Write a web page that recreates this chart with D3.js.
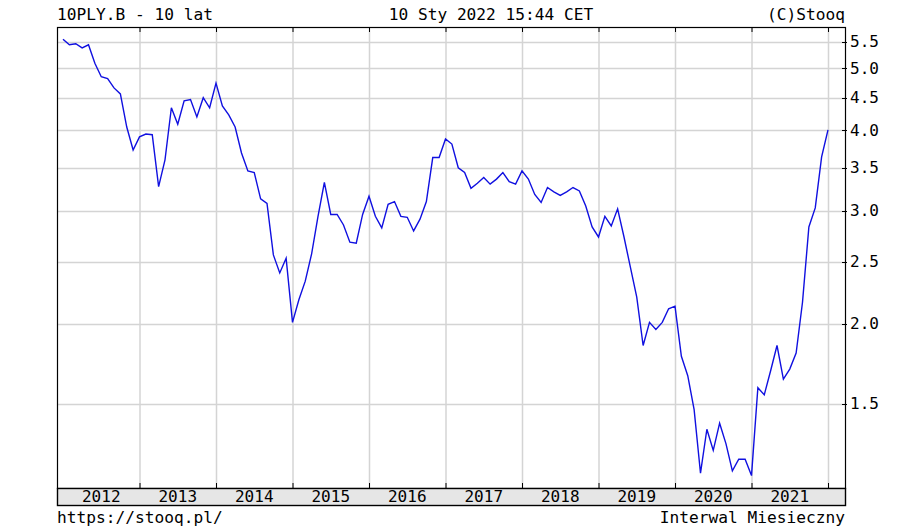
<!DOCTYPE html>
<html><head><meta charset="utf-8">
<script src="https://cdn.jsdelivr.net/npm/d3@7"></script>
<style>
html,body{margin:0;padding:0;background:#fff;}
svg{display:block;}
text{font-family:"DejaVu Sans Mono",monospace;fill:#000;}
</style></head>
<body>
<svg id="chart" width="916" height="529"></svg>
<script>
// Monthly yields, Jan 2012 .. Jan 2022
const startYear = 2012;
const values = [
  5.55,5.44,5.46,5.38,5.44,5.09,4.85,4.82,4.66,4.56,4.05,3.73,
  3.91,3.95,3.94,3.27,3.60,4.34,4.09,4.45,4.47,4.20,4.50,4.34,
  4.74,4.37,4.23,4.05,3.69,3.46,3.44,3.13,3.08,2.56,2.40,2.53,
  2.01,2.18,2.33,2.57,2.94,3.32,2.96,2.96,2.85,2.68,2.67,2.96,
  3.16,2.94,2.82,3.07,3.10,2.94,2.93,2.79,2.91,3.10,3.63,3.63,
  3.88,3.81,3.50,3.44,3.25,3.31,3.38,3.30,3.36,3.44,3.33,3.30,
  3.46,3.36,3.18,3.09,3.26,3.21,3.17,3.21,3.26,3.22,3.05,2.83,
  2.73,2.94,2.84,3.02,2.73,2.45,2.20,1.85,2.01,1.96,2.01,2.11,
  2.13,1.78,1.66,1.47,1.17,1.37,1.27,1.40,1.30,1.18,1.23,1.23,
  1.16,1.59,1.55,1.69,1.85,1.64,1.70,1.80,2.16,2.83,3.03,3.64,
  4.01
];
const yearLabels = ["2012","2013","2014","2015","2016","2017","2018","2019","2020","2021"];
const yTicks = [1.5,2.0,2.5,3.0,3.5,4.0,4.5,5.0,5.5];
const titleLeft = "10PLY.B - 10 lat";
const titleCenter = "10 Sty 2022 15:44 CET";
const titleRight = "(C)Stooq";
const footLeft = "https://stooq.pl/";
const footRight = "Interwal Miesieczny";

const L = 57, R = 845, T = 27, B = 488, BB = 505;
const svg = d3.select("#chart");

const x = d3.scaleLinear().domain([0, 120]).range([63, 828]);
const y = d3.scaleLog().domain([1.1096, 5.798]).range([B, T]);

// gridlines
const gridCol = "#d4d4d4";
const yearLines = d3.range(1, 11).map(k => k * 12);
svg.append("g").selectAll("line").data(yearLines).join("line")
  .attr("x1", d => x(d) + 0.5).attr("x2", d => x(d) + 0.5)
  .attr("y1", T).attr("y2", B)
  .attr("stroke", gridCol).attr("stroke-width", 1.5);
svg.append("g").selectAll("line").data(yTicks).join("line")
  .attr("x1", L).attr("x2", R)
  .attr("y1", d => Math.round(y(d)) + 0.5).attr("y2", d => Math.round(y(d)) + 0.5)
  .attr("stroke", gridCol).attr("stroke-width", 1.5);

// tick marks
const tickG = svg.append("g").attr("stroke", "#000").attr("stroke-width", 1);
tickG.selectAll(".tt").data(yearLines).join("line")
  .attr("x1", d => x(d) + 0.5).attr("x2", d => x(d) + 0.5)
  .attr("y1", T).attr("y2", T + 5);
tickG.selectAll(".tb").data(yearLines).join("line")
  .attr("x1", d => x(d) + 0.5).attr("x2", d => x(d) + 0.5)
  .attr("y1", B - 5).attr("y2", B);
tickG.selectAll(".ty").data(yTicks).join("line")
  .attr("x1", R - 3).attr("x2", R + 2)
  .attr("y1", d => Math.round(y(d)) + 0.5).attr("y2", d => Math.round(y(d)) + 0.5);

// data line
const line = d3.line().x((d, i) => x(i)).y(d => y(d));
svg.append("path").datum(values)
  .attr("d", line).attr("fill", "none")
  .attr("stroke", "#1010e0").attr("stroke-width", 1.4)
  .attr("stroke-linejoin", "miter");

// frame
svg.append("rect").attr("x", L + 0.5).attr("y", T + 0.5)
  .attr("width", R - L).attr("height", B - T)
  .attr("fill", "none").attr("stroke", "#000").attr("stroke-width", 1.2);
// axis band
svg.append("rect").attr("x", L + 0.5).attr("y", B + 0.5)
  .attr("width", R - L).attr("height", BB - B)
  .attr("fill", "#e6e6e6").attr("stroke", "#000").attr("stroke-width", 1.4);

// year labels
svg.append("g").selectAll("text").data(yearLabels).join("text")
  .attr("x", (d, i) => x(i * 12 + 6))
  .attr("y", BB - 3)
  .attr("text-anchor", "middle")
  .attr("font-size", 16)
  .text(d => d);

// y labels
svg.append("g").selectAll("text").data(yTicks).join("text")
  .attr("x", R + 5)
  .attr("y", d => y(d) + 5.5)
  .attr("font-size", 16)
  .text(d => d.toFixed(1));

// header & footer
const ft = 16.2;
svg.append("text").attr("x", L).attr("y", 20).attr("font-size", ft).text(titleLeft);
svg.append("text").attr("x", 491).attr("y", 20).attr("font-size", ft).attr("text-anchor", "middle").text(titleCenter);
svg.append("text").attr("x", R).attr("y", 20).attr("font-size", ft).attr("text-anchor", "end").text(titleRight);
svg.append("text").attr("x", L).attr("y", 523).attr("font-size", ft).text(footLeft);
svg.append("text").attr("x", R).attr("y", 523).attr("font-size", ft).attr("text-anchor", "end").text(footRight);
</script>
</body></html>
